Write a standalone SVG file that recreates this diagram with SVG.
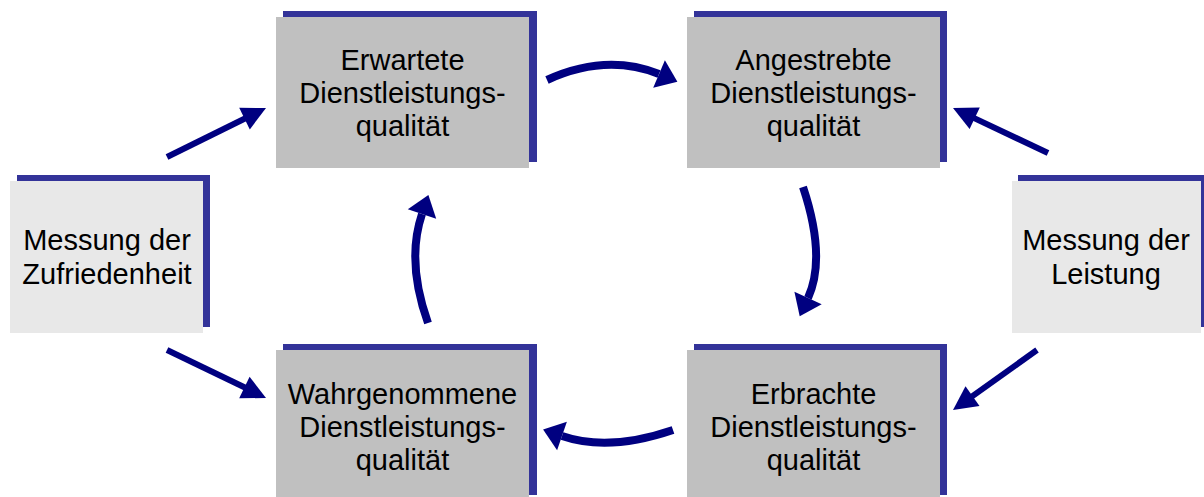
<svg xmlns="http://www.w3.org/2000/svg" width="1204" height="497" viewBox="0 0 1204 497">
<style>
.sh{fill:#333399}
.bx{fill:#C0C0C0}
.lb{fill:#E8E8E8}
text{font-family:"Liberation Sans",Arial,sans-serif;font-size:29px;fill:#000;text-anchor:middle}
.ln{fill:none;stroke:#000080;stroke-width:6}
.cv{fill:none;stroke:#000080;stroke-width:8}
.hd{fill:#000080}
</style>
<rect width="1204" height="497" fill="#fff"/>
<g id="node-erwartete">
<rect class="sh" x="283" y="11" width="254" height="151"/>
<rect class="bx" x="276" y="17" width="253" height="151"/>
<text x="402.5" y="70">Erwartete</text>
<text x="402.5" y="103">Dienstleistungs-</text>
<text x="402.5" y="136">qualität</text>
</g>
<g id="node-angestrebte">
<rect class="sh" x="694" y="11" width="253" height="151"/>
<rect class="bx" x="687" y="17" width="253" height="151"/>
<text x="813.5" y="70">Angestrebte</text>
<text x="813.5" y="103">Dienstleistungs-</text>
<text x="813.5" y="136">qualität</text>
</g>
<g id="node-wahrgenommene">
<rect class="sh" x="283" y="344" width="254" height="151"/>
<rect class="bx" x="276" y="350" width="253" height="151"/>
<text x="402.5" y="404">Wahrgenommene</text>
<text x="402.5" y="437">Dienstleistungs-</text>
<text x="402.5" y="470">qualität</text>
</g>
<g id="node-erbrachte">
<rect class="sh" x="694" y="344" width="253" height="151"/>
<rect class="bx" x="687" y="350" width="253" height="151"/>
<text x="813.5" y="404">Erbrachte</text>
<text x="813.5" y="437">Dienstleistungs-</text>
<text x="813.5" y="470">qualität</text>
</g>
<g id="node-zufriedenheit">
<rect class="sh" x="17" y="175" width="193" height="152"/>
<rect class="lb" x="10" y="181" width="193" height="152"/>
<text x="107" y="250">Messung der</text>
<text x="107" y="284">Zufriedenheit</text>
</g>
<g id="node-leistung">
<rect class="sh" x="1018" y="175" width="190" height="152"/>
<rect class="lb" x="1012" y="181" width="189" height="152"/>
<text x="1106" y="250">Messung der</text>
<text x="1106" y="284">Leistung</text>
</g>
<g id="connectors">
<path class="ln" d="M167,157 L248,117"/>
<polygon class="hd" points="266,108 249.8,129.4 239.2,107.8"/>
<path class="ln" d="M167,350 L248,389"/>
<polygon class="hd" points="266,398 239.2,398.3 249.6,376.7"/>
<path class="ln" d="M1048,153 L971,116.6"/>
<polygon class="hd" points="953,108 979.8,107.5 969.6,129.1"/>
<path class="ln" d="M1037,350 L969.3,398.4"/>
<polygon class="hd" points="953,410 979.5,405.9 965.5,386.3"/>
<path class="cv" d="M547,80 Q606,53 659,74"/>
<polygon class="hd" points="677.4,81.8 653.2,87.8 664.9,60.2"/>
<path class="cv" d="M803,187 Q826.5,257.5 808,298"/>
<polygon class="hd" points="799.7,316.2 794.4,291.8 821.7,304.2"/>
<path class="cv" d="M673,430 Q608.5,452 562,436"/>
<polygon class="hd" points="543.1,429.5 566.9,421.8 557.1,450.2"/>
<path class="cv" d="M428,323 Q406,261.5 422,214"/>
<polygon class="hd" points="428.4,195 436.2,218.8 407.8,209.2"/>
</g>
</svg>
